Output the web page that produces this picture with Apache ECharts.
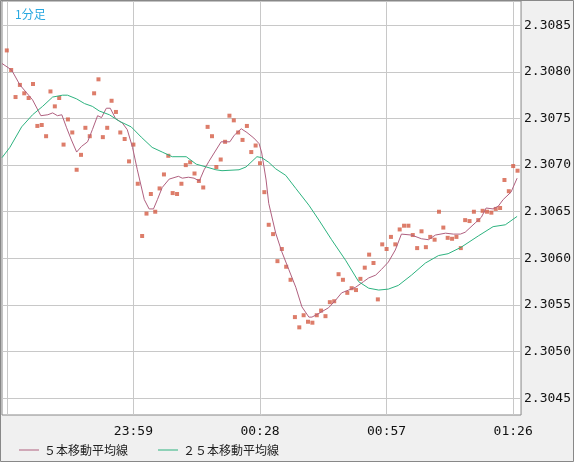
<!DOCTYPE html>
<html>
<head>
<meta charset="utf-8">
<script src="https://cdn.jsdelivr.net/npm/echarts@6/dist/echarts.min.js"></script>
<style>html,body{margin:0;padding:0;background:#f0f0f0}#chart{width:574px;height:462px}</style>
</head>
<body>
<div id="chart"></div>
<script>
// 1分足 価格 (0 = 23:30)
var prices = [
  2.30823,2.30802,2.30773,2.30786,2.30777,2.30772,2.30787,2.30742,2.30743,2.30731,
  2.30779,2.30763,2.30772,2.30722,2.30749,2.30735,2.30695,2.30711,2.30740,2.30731,
  2.30777,2.30792,2.30730,2.30740,2.30769,2.30757,2.30735,2.30728,2.30704,2.30722,
  2.30680,2.30624,2.30648,2.30669,2.30650,2.30675,2.30690,2.30710,2.30670,2.30669,
  2.30680,2.30700,2.30703,2.30691,2.30683,2.30676,2.30741,2.30731,2.30698,2.30706,
  2.30725,2.30753,2.30748,2.30735,2.30727,2.30742,2.30714,2.30721,2.30702,2.30671,
  2.30636,2.30626,2.30597,2.30610,2.30591,2.30577,2.30537,2.30526,2.30539,2.30532,
  2.30531,2.30539,2.30544,2.30538,2.30553,2.30554,2.30583,2.30577,2.30563,2.30568,
  2.30566,2.30578,2.30590,2.30604,2.30595,2.30556,2.30615,2.30610,2.30623,2.30615,
  2.30631,2.30635,2.30635,2.30625,2.30611,2.30629,2.30612,2.30623,2.30620,2.30650,
  2.30633,2.30622,2.30621,2.30623,2.30611,2.30641,2.30640,2.30650,2.30641,2.30651,
  2.30650,2.30649,2.30653,2.30654,2.30684,2.30672,2.30699,2.30694
];
// 5本移動平均線 [分, 値]
var ma5 = [
  [-1.1,2.30809],[1.1,2.30802],[3.0,2.30786],[5.9,2.30770],[7.8,2.30753],[9.4,2.30754],
  [10.5,2.30756],[11.6,2.30753],[12.6,2.30754],[13.7,2.30740],[14.8,2.30727],[16.0,2.30714],
  [17.1,2.30720],[18.5,2.30725],[19.6,2.30738],[20.8,2.30753],[21.7,2.30751],[22.8,2.30761],
  [23.7,2.30761],[24.9,2.30750],[26.5,2.30745],[27.6,2.30738],[28.8,2.30719],[29.9,2.30695],
  [31.5,2.30663],[32.6,2.30653],[33.6,2.30653],[34.5,2.30663],[35.6,2.30676],[37.2,2.30685],
  [39.3,2.30688],[40.2,2.30686],[41.6,2.30687],[42.9,2.30686],[44.1,2.30683],[45.2,2.30695],
  [46.3,2.30704],[47.5,2.30713],[49.1,2.30725],[51.1,2.30725],[52.1,2.30732],[53.7,2.30739],
  [55.0,2.30735],[56.6,2.30729],[57.8,2.30723],[58.4,2.30713],[59.4,2.30684],[60.0,2.30659],
  [61.6,2.30627],[63.0,2.30607],[64.6,2.30588],[66.2,2.30569],[67.6,2.30548],[69.2,2.30537],
  [69.9,2.30537],[71.5,2.30541],[73.7,2.30547],[75.3,2.30555],[76.7,2.30563],[78.3,2.30566],
  [79.9,2.30569],[81.7,2.30575],[82.9,2.30579],[84.5,2.30582],[85.8,2.30588],[87.4,2.30596],
  [89.0,2.30609],[90.4,2.30626],[92.7,2.30625],[95.0,2.30621],[96.6,2.30620],[98.2,2.30625],
  [100.5,2.30627],[102.3,2.30626],[103.9,2.30626],[105.0,2.30628],[107.3,2.30638],[108.7,2.30644],
  [109.8,2.30654],[111.4,2.30653],[112.6,2.30656],[113.7,2.30663],[115.5,2.30671],[116.9,2.30686]
];
// 25本移動平均線 [分, 値]
var ma25 = [
  [-1.1,2.30708],[0.7,2.30719],[3.4,2.30741],[5.9,2.30754],[8.2,2.30763],[10.5,2.30773],
  [12.8,2.30775],[13.9,2.30775],[16.0,2.30771],[17.8,2.30766],[19.6,2.30763],[21.2,2.30758],
  [23.5,2.30754],[25.8,2.30747],[28.5,2.30741],[30.8,2.30730],[33.3,2.30719],[35.6,2.30714],
  [37.9,2.30709],[41.1,2.30709],[43.4,2.30701],[45.7,2.30698],[47.9,2.30695],[49.3,2.30694],
  [53.2,2.30695],[54.8,2.30698],[57.3,2.30709],[58.4,2.30708],[60.0,2.30703],[61.6,2.30696],
  [63.9,2.30689],[66.2,2.30675],[69.2,2.30657],[71.5,2.30641],[74.4,2.30620],[77.6,2.30598],
  [80.6,2.30575],[82.9,2.30568],[85.2,2.30566],[87.4,2.30567],[89.7,2.30571],[92.7,2.30582],
  [95.9,2.30595],[98.9,2.30603],[101.1,2.30605],[104.1,2.30612],[108.0,2.30624],[111.4,2.30634],
  [114.2,2.30636],[116.9,2.30645]
];
var xTicks = [0, 29, 58, 87, 116];
var xTickLabels = {29: '23:59', 58: '00:28', 87: '00:57', 116: '01:26'};
var yTicks = [2.3045, 2.3050, 2.3055, 2.3060, 2.3065, 2.3070, 2.3075, 2.3080, 2.3085];

var xMin = -1.1, xMax = 117.8, yMin = 2.30432, yMax = 2.30876;

var myChart = echarts.init(document.getElementById('chart'));

var gridLines = xTicks.map(function (v) { return [{ coord: [v, yMin] }, { coord: [v, yMax] }]; })
  .concat(yTicks.map(function (v) { return [{ coord: [xMin, v] }, { coord: [xMax, v] }]; }));

var option = {
  animation: false,
  backgroundColor: '#f0f0f0',
  textStyle: { fontFamily: 'DejaVu Sans Mono' },
  title: {
    text: '1分足', left: 10, top: 3,
    textStyle: { color: '#29a8e0', fontSize: 12, fontWeight: 'normal', fontFamily: 'Noto Sans CJK JP' }
  },
  legend: {
    left: 14, bottom: 1, itemWidth: 20, itemHeight: 1, itemGap: 30, icon: 'rect',
    data: ['５本移動平均線', '２５本移動平均線'],
    textStyle: { color: '#222', fontSize: 12, fontFamily: 'Noto Sans CJK JP' }
  },
  graphic: [{
    type: 'rect', shape: { x: 0.5, y: 0.5, width: 573, height: 461 },
    style: { fill: 'none', stroke: '#888' }, z: 100
  }],
  grid: {
    left: 2, right: 51, top: 1, bottom: 47, show: true,
    backgroundColor: '#fff', borderColor: '#888', borderWidth: 1
  },
  xAxis: {
    type: 'value', min: xMin, max: xMax,
    axisLine: { show: false }, axisTick: { show: false }, splitLine: { show: false },
    axisLabel: {
      customValues: [29, 58, 87, 116], color: '#111', fontSize: 13, margin: 10,
      formatter: function (v) { return xTickLabels[Math.round(v)] || ''; }
    }
  },
  yAxis: {
    type: 'value', position: 'right', min: yMin, max: yMax,
    axisLine: { show: false }, axisTick: { show: false }, splitLine: { show: false },
    axisLabel: {
      customValues: yTicks, color: '#111', fontSize: 13, margin: 3,
      formatter: function (v) { return v.toFixed(4); }
    }
  },
  series: [
    {
      type: 'scatter', symbol: 'rect', symbolSize: 4,
      itemStyle: { color: '#d45c45' },
      data: prices.map(function (v, i) { return [i, v]; }),
      markLine: {
        silent: true, symbol: 'none', label: { show: false }, z: 1,
        lineStyle: { color: '#c8c8c8', type: 'solid', width: 1 },
        data: gridLines
      }
    },
    {
      name: '５本移動平均線', type: 'line', showSymbol: false, symbol: 'none',
      lineStyle: { color: '#b0607f', width: 1 }, itemStyle: { color: '#b0607f' },
      data: ma5
    },
    {
      name: '２５本移動平均線', type: 'line', showSymbol: false, symbol: 'none',
      lineStyle: { color: '#2db37f', width: 1 }, itemStyle: { color: '#2db37f' },
      data: ma25
    }
  ]
};

myChart.setOption(option);
</script>
</body>
</html>
